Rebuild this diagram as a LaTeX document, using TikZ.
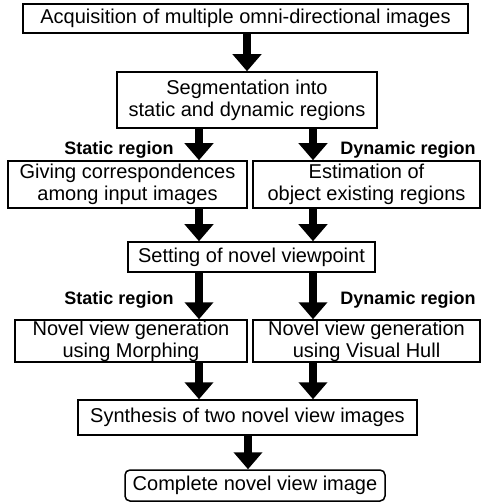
\documentclass[tikz,border=0pt]{standalone}
\usepackage{fontspec}
\setmainfont{Liberation Sans}
\usetikzlibrary{arrows.meta}
\usetikzlibrary{calc}

\tikzset{
  stagebox/.style={draw,line width=1.5pt,align=center,inner sep=0pt,
    font=\fontsize{20}{22}\selectfont},
  flowarrow/.style={line width=8pt,-{Triangle[width=28pt,length=17pt]}},
  regionlabel/.style={font=\bfseries\fontsize{18}{20}\selectfont}
}

\begin{document}
\begin{tikzpicture}[x=1pt,y=-1pt]
\useasboundingbox (0,0) rectangle (492,502);
% boxes
\node[stagebox,minimum width=445,minimum height=29] (acq) at (245.5,18.5) {Acquisition of multiple omni-directional images};
\node[stagebox,minimum width=260,minimum height=56] (seg) at (247,100) {Segmentation into\\static and dynamic regions};
\node[stagebox,minimum width=239,minimum height=47] (giv) at (127.5,184.5) {Giving correspondences\\among input images};
\node[stagebox,minimum width=227,minimum height=47] (est) at (366.5,184.5) {Estimation of\\object existing regions};
\node[stagebox,minimum width=247,minimum height=30] (set) at (251.5,257) {Setting of novel viewpoint};
\node[stagebox,minimum width=232,minimum height=42] (mor) at (131,341) {Novel view generation\\using Morphing};
\node[stagebox,minimum width=227,minimum height=42] (vis) at (366.5,341) {Novel view generation\\using Visual Hull};
\node[stagebox,minimum width=339,minimum height=35] (syn) at (247.5,417.5) {Synthesis of two novel view images};
\node[stagebox,rounded corners=5pt,minimum width=260,minimum height=31] (com) at (255,485.5) {Complete novel view image};
% labels
\node[regionlabel] (sl1) at (119,150) {Static region};
\node[regionlabel] (dl1) at (408,150) {Dynamic region};
\node[regionlabel] (sl2) at (119,300) {Static region};
\node[regionlabel] (dl2) at (408,300) {Dynamic region};
% arrows
\coordinate (lx) at (199,0);
\coordinate (rx) at (313,0);
\draw[flowarrow] (acq.south -| 247,0) -- (seg.north -| 247,0);
\draw[flowarrow] (seg.south -| lx) -- (giv.north -| lx);
\draw[flowarrow] (seg.south -| rx) -- (est.north -| rx);
\draw[flowarrow] (giv.south -| lx) -- (set.north -| lx);
\draw[flowarrow] (est.south -| rx) -- (set.north -| rx);
\draw[flowarrow] (set.south -| lx) -- (mor.north -| lx);
\draw[flowarrow] (set.south -| rx) -- (vis.north -| rx);
\draw[flowarrow] (mor.south -| lx) -- (syn.north -| lx);
\draw[flowarrow] (vis.south -| rx) -- (syn.north -| rx);
\draw[flowarrow] (syn.south -| 248,0) -- (com.north -| 248,0);
\end{tikzpicture}
\end{document}
